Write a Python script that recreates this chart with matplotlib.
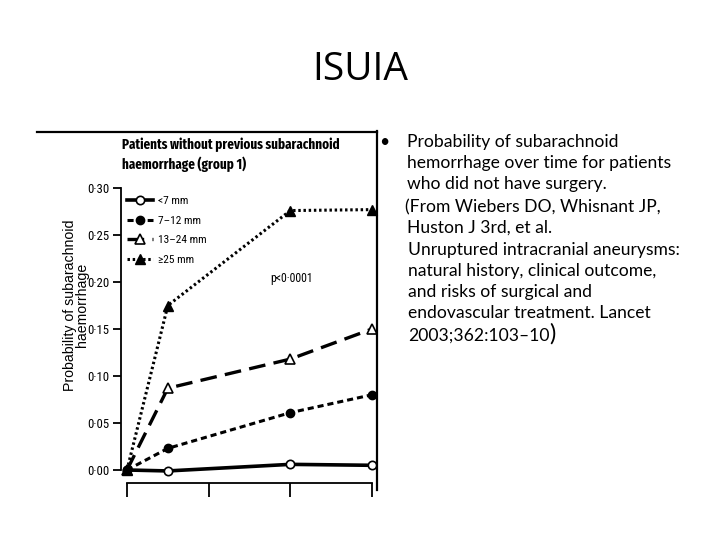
import matplotlib
matplotlib.use("Agg")
import matplotlib.pyplot as plt
from matplotlib.lines import Line2D

# years after diagnosis (tick positions 0..3)
years = [0, 0.5, 2, 3]
lt7 = [0.000, -0.001, 0.006, 0.005]
mm7_12 = [0.000, 0.023, 0.061, 0.080]
mm13_24 = [0.000, 0.087, 0.118, 0.150]
ge25 = [0.000, 0.175, 0.276, 0.277]
labels = ["<7 mm", "7\u201312 mm", "13\u201324 mm", "\u226525 mm"]
yticks = [0.00, 0.05, 0.10, 0.15, 0.20, 0.25, 0.30]
xticks = [0, 1, 2, 3]

W, H = 720, 540
narrow = ["Roboto Condensed", "DejaVu Sans"]
xnarrow = ["Fira Sans Extra Condensed", "Roboto Condensed", "DejaVu Sans"]

fig = plt.figure(figsize=(7.2, 5.4), dpi=100)


def px(x, y):
    return x / W, 1 - y / H


ax = fig.add_axes([127 / W, 70 / H, 245 / W, 282 / H])
ax.set_xlim(0, 3)
ax.set_ylim(0, 0.30)

ax.plot(years, lt7, color="black", lw=2.6, ls="-", marker="o", ms=6,
        mfc="white", mec="black", mew=1.2, clip_on=False, label=labels[0])
ax.plot(years, mm7_12, color="black", lw=2.2, ls=(0, (2, 1.3)), marker="o", ms=6,
        mfc="black", mec="black", clip_on=False, label=labels[1])
ax.plot(years, mm13_24, color="black", lw=2.4, ls=(0, (5, 2.5)), marker="^", ms=7,
        mfc="white", mec="black", mew=1.2, clip_on=False, label=labels[2])
ax.plot(years, ge25, color="black", lw=2.2, ls=(0, (0.8, 0.9)), marker="^", ms=7,
        mfc="black", mec="black", clip_on=False, label=labels[3])

for s in ["top", "right"]:
    ax.spines[s].set_visible(False)
ax.spines["left"].set_position(("outward", 4))
ax.spines["bottom"].set_position(("outward", 9))
ax.spines["left"].set_linewidth(1.3)
ax.spines["bottom"].set_linewidth(1.3)
ax.spines["bottom"].set_bounds(0, 3)

ax.set_yticks(yticks)
ax.set_yticklabels([f"{v:.2f}".replace(".", "\u00b7") for v in yticks],
                   family=narrow, fontsize=9.2)
ax.set_xticks(xticks)
ax.set_xticklabels([])
ax.tick_params(axis="y", length=6, width=1.3, pad=2.5)
ax.tick_params(axis="x", length=10, width=1.3, direction="out")

leg = ax.legend(loc="upper left", bbox_to_anchor=px(127, 196),
                bbox_transform=fig.transFigure, frameon=False,
                handlelength=2.3, handletextpad=0.45, labelspacing=0.85,
                borderaxespad=0, borderpad=0, prop={"family": narrow, "size": 8.2})

ax.text(0.585, 0.68, "p<0\u00b70001", transform=ax.transAxes,
        family=narrow, fontsize=8.5, ha="left", va="center")

fig.text(*px(122, 155), "Patients without previous subarachnoid\nhaemorrhage (group 1)",
         family=xnarrow, fontsize=10.2, weight="bold", ha="left", va="center",
         linespacing=1.35)
fig.text(*px(76, 305), "Probability of subarachnoid\nhaemorrhage",
         family=["Liberation Sans", "DejaVu Sans"], fontsize=10.2, rotation=90,
         ha="center", va="center", multialignment="center", linespacing=0.85)

# frame lines of the pasted figure
fig.add_artist(Line2D([37 / W, 377 / W], [1 - 132 / H, 1 - 132 / H],
                      color="black", lw=1.6))
fig.add_artist(Line2D([377 / W, 377 / W], [1 - 131 / H, 1 - 490 / H],
                      color="black", lw=1.6))

# slide title
fig.text(*px(360, 70), "ISUIA", family=["Open Sans", "DejaVu Sans"],
         fontsize=28, ha="center", va="center")

# right-hand notes
body = ["Lato", "DejaVu Sans"]
fs = 12.6
fig.text(*px(384, 142), "\u2022", family=body, fontsize=fs, ha="center", va="center")
lines = [
    (407, 142, "Probability of subarachnoid"),
    (407, 163, "hemorrhage over time for patients"),
    (407, 184, "who did not have surgery."),
    (405, 207, "(From Wiebers DO, Whisnant JP,"),
    (407, 228, "Huston J 3rd, et al."),
    (408, 250, "Unruptured intracranial aneurysms:"),
    (408, 271, "natural history, clinical outcome,"),
    (408, 292, "and risks of surgical and"),
    (408, 313, "endovascular treatment. Lancet"),
]
for x, y, t in lines:
    fig.text(*px(x, y), t, family=body, fontsize=fs, ha="left", va="center")
t = fig.text(*px(408, 336), "2003;362:103\u201310", family=body, fontsize=fs,
             ha="left", va="center")
fig.canvas.draw()
bb = t.get_window_extent()
fig.text(bb.x1 / W, 1 - 334 / H, ")", family=body, fontsize=17, ha="left",
         va="center")

fig.savefig("out.png", dpi=100)
